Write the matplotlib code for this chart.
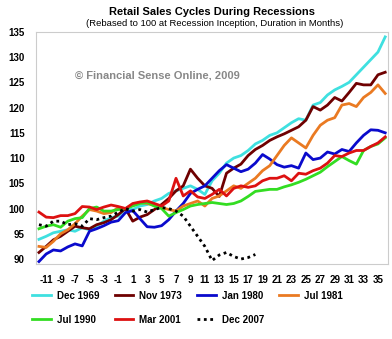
import numpy as np
import matplotlib.pyplot as plt

plt.rcParams['font.family'] = ['Liberation Sans', 'DejaVu Sans']
plt.rcParams['axes.unicode_minus'] = False

months = list(range(-12, 37))

dec_1969 = [93.9, 94.5, 95.2, 95.5, 95.8, 95.5, 96.2, 95.8, 96.5, 97.5, 98.2, 98.5,
            100.0, 99.8, 100.5, 100.8, 101.5, 102.0, 103.0, 103.5, 104.0, 104.5, 103.8, 102.8,
            105.5, 107.0, 109.0, 110.0, 110.5, 111.5, 112.8, 113.5, 114.5, 115.0, 116.0, 117.0,
            117.8, 117.5, 120.5, 121.0, 122.5, 123.5, 124.2, 125.0, 126.5, 128.0, 129.5, 131.0, 134.0]
nov_1973 = [91.3, 92.5, 93.8, 94.5, 95.5, 96.5, 96.2, 96.0, 96.8, 97.2, 97.8, 98.8,
            100.0, 97.5, 98.3, 98.8, 99.8, 100.8, 102.0, 103.5, 104.5, 107.8, 106.0, 104.5,
            104.0, 102.4, 107.0, 108.0, 108.8, 110.5, 111.7, 112.5, 113.5, 114.2, 114.8, 115.5,
            116.2, 117.5, 120.2, 119.5, 120.5, 122.0, 121.3, 123.0, 124.8, 124.5, 124.5, 126.5, 127.0]
jan_1980 = [89.5, 91.0, 91.8, 91.6, 92.4, 93.0, 92.6, 95.5, 96.0, 96.6, 97.3, 97.6,
            99.2, 99.6, 98.0, 96.4, 96.3, 96.6, 97.8, 99.5, 101.0, 103.0, 103.8, 104.5,
            106.0, 107.5, 108.7, 108.0, 107.3, 107.8, 109.0, 110.7, 109.8, 108.7, 108.2, 108.5,
            108.0, 111.0, 109.7, 110.0, 111.2, 110.8, 111.7, 111.3, 113.0, 114.5, 115.6, 115.5, 115.0]
jul_1981 = [92.5, 92.3, 93.5, 95.0, 95.8, 97.0, 98.5, 99.8, 99.5, 99.0, 99.2, 100.2,
            100.0, 100.8, 101.2, 101.0, 100.6, 100.2, 99.8, 99.5, 100.5, 101.0, 101.5, 100.5,
            102.0, 102.5, 103.5, 104.5, 104.0, 105.0, 106.0, 107.5, 108.5, 110.5, 112.5, 114.0,
            113.0, 112.0, 114.5, 116.5, 117.5, 118.0, 120.5, 120.8, 120.2, 122.0, 123.0, 124.5, 122.8]
jul_1990 = [96.0, 96.5, 96.8, 96.3, 97.5, 98.0, 98.2, 100.0, 100.3, 99.5, 99.5, 99.8,
            100.0, 100.5, 101.0, 101.2, 100.5, 100.0, 98.5, 99.2, 99.8, 100.5, 100.8, 101.0,
            101.2, 101.0, 100.8, 101.0, 101.5, 102.4, 103.4, 103.6, 103.8, 103.8, 104.3, 104.7,
            105.2, 105.8, 106.5, 107.2, 108.3, 109.3, 110.3, 109.5, 108.8, 111.5, 112.3, 112.8, 114.0]
mar_2001 = [99.3, 98.3, 98.2, 98.6, 98.6, 99.0, 100.4, 100.3, 99.8, 100.3, 100.7, 100.4,
            100.0, 101.0, 101.3, 101.5, 101.0, 100.5, 101.5, 106.0, 102.5, 103.5, 102.3, 102.0,
            102.8, 103.8, 102.5, 104.0, 104.5, 104.2, 104.5, 105.5, 106.0, 106.0, 106.5, 105.5,
            107.0, 106.8, 107.5, 108.0, 109.0, 110.5, 110.3, 111.0, 111.5, 111.5, 112.3, 113.0, 114.2]
dec_2007 = [96.8, 96.5, 97.5, 97.5, 96.8, 97.0, 96.5, 98.0, 97.8, 98.2, 98.5, 99.3,
            100.0, 99.5, 99.8, 99.3, 99.8, 100.2, 100.0, 99.5, 98.5, 96.5, 94.5, 92.5,
            89.7, 90.8, 91.3, 90.5, 90.0, 90.3, 90.9]

series = [
    ("Dec 1969", dec_1969, "#3fe0e0", "-"),
    ("Nov 1973", nov_1973, "#6e0000", "-"),
    ("Jan 1980", jan_1980, "#0a0acc", "-"),
    ("Jul 1981", jul_1981, "#ea7a22", "-"),
    ("Jul 1990", jul_1990, "#33dd22", "-"),
    ("Mar 2001", mar_2001, "#dd1111", "-"),
    ("Dec 2007", dec_2007, "black", (0, (1, 1.3))),
]

fig = plt.figure(figsize=(3.92, 3.39), dpi=100)
ax = fig.add_axes([0.092, 0.221, 0.898, 0.685])

lines = []
for name, vals, col, ls in series:
    ln, = ax.plot(months[:len(vals)], vals, color=col, ls=ls, lw=2.0, label=name)
    lines.append(ln)

ax.set_xlim(-12.4, 36.4)
ax.set_ylim(89, 135)
ax.set_xticks(range(-11, 36, 2))
ax.set_yticks(range(90, 136, 5))
ax.tick_params(length=0, labelsize=7, pad=8)
for lab in ax.get_xticklabels() + ax.get_yticklabels():
    lab.set_fontweight('bold')
for s in ax.spines.values():
    s.set_color('#cccccc')
    s.set_linewidth(0.8)

ax.text(0.11, 0.8, "\u00a9 Financial Sense Online, 2009", transform=ax.transAxes,
        fontsize=8, fontweight='bold', color='#888888')

fig.text(0.54, 0.965, "Retail Sales Cycles During Recessions", ha='center', va='center',
         fontsize=8, fontweight='bold')
fig.text(0.548, 0.93, "(Rebased to 100 at Recession Inception, Duration in Months)",
         ha='center', va='center', fontsize=6.8)

# row-major order for the legend
order = [0, 4, 1, 5, 2, 6, 3]
fig.legend([lines[i] for i in order], [series[i][0] for i in order],
           loc='upper left', bbox_to_anchor=(0.06, 0.168), ncol=4, frameon=False,
           handlelength=1.9, columnspacing=1.6, labelspacing=1.45,
           handletextpad=0.6, prop={'weight': 'bold', 'size': 7})

fig.savefig("out.png", dpi=100)
